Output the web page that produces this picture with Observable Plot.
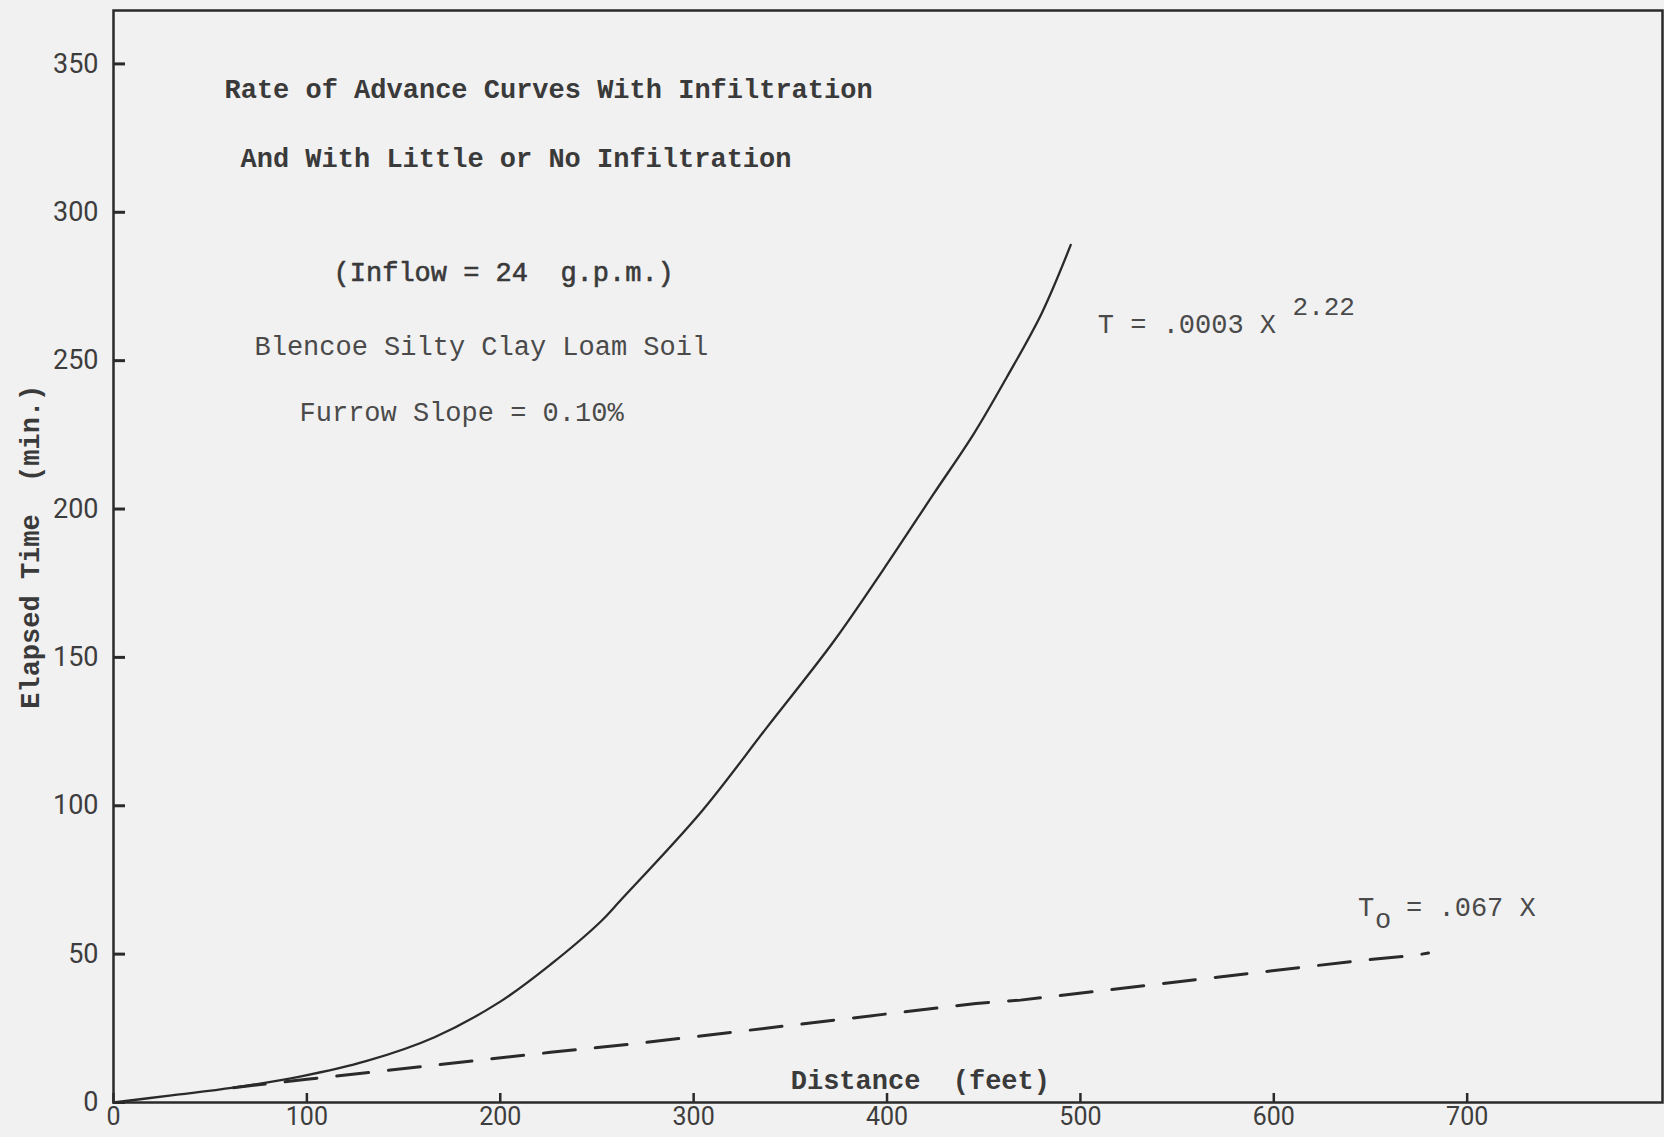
<!DOCTYPE html>
<html><head><meta charset="utf-8">
<script src="https://cdn.jsdelivr.net/npm/d3@7"></script>
<script src="https://cdn.jsdelivr.net/npm/@observablehq/plot@0.6"></script>
<style>
html,body{margin:0;padding:0;background:#f1f1f1;}
#chart svg{display:block;}
</style></head><body><div id="chart"></div>
<script>
// Curve with infiltration: T = .0003 X^2.22
const infilDistance = [0, 30, 62, 97, 131, 166, 200, 226, 252, 262, 304, 338, 372, 398, 424, 445, 462, 480, 495];
const infilTime     = [0, 2.4, 5, 8.8, 14, 22, 34, 46.5, 61, 68, 98, 126.5, 155, 179.5, 205, 225.5, 244.5, 266, 289];
// Little or no infiltration: To = .067 X (dashed)
const noInfilDistance = [62, 100, 226, 271, 446, 469, 644, 673, 680];
const noInfilTime     = [5, 7.8, 16.9, 19.9, 33.4, 34.5, 47.8, 49.6, 50.4];
const xTicks = [0, 100, 200, 300, 400, 500, 600, 700];
const yTicks = [0, 50, 100, 150, 200, 250, 300, 350];
const titleLines = ["Rate of Advance Curves With Infiltration", "And With Little or No Infiltration"];
const noteLines = ["(Inflow = 24  g.p.m.)", "Blencoe Silty Clay Loam Soil", "Furrow Slope = 0.10%"];
const curveLabel = ["T = .0003 X", "2.22"];
const lineLabel = ["T", "o", "= .067 X"];
const xLabel = "Distance  (feet)";
const yLabel = "Elapsed Time  (min.)";

const solid = infilDistance.map((x, i) => ({x, t: infilTime[i]}));
const dashed = noInfilDistance.map((x, i) => ({x, t: noInfilTime[i]}));

const W = 1664, H = 1137, mL = 113, mR = 2, mT = 10, mB = 35;
const innerW = W - mL - mR, innerH = H - mT - mB;
const mono = "Liberation Mono, DejaVu Sans Mono, monospace";
const ink = "#2a2a2a", typeInk = "#3a3a3a";

const txt = (s, o) => Plot.text([s], {text: d => d, fontFamily: mono, fontSize: 27, textAnchor: "start", lineAnchor: "middle", fill: typeInk, ...o});

const chart = Plot.plot({
  width: W, height: H,
  marginLeft: mL, marginRight: mR, marginTop: mT, marginBottom: mB,
  style: {background: "#f1f1f1", fontFamily: "Roboto, sans-serif", fontSize: "26px", color: "#3d3d3d"},
  x: {domain: [0, 801]},
  y: {domain: [0, 368]},
  marks: [
    Plot.frame({stroke: ink, strokeWidth: 2.5}),
    Plot.axisX(xTicks, {tickSize: 0, tickPadding: 5, fontSize: 25, label: null}),
    Plot.axisY(yTicks, {tickSize: 0, tickPadding: 15, fontSize: 27, label: null}),
    Plot.tickY(yTicks, {y: d => d, insetRight: innerW - 12, stroke: ink, strokeWidth: 3}),
    Plot.tickX(xTicks, {x: d => d, insetTop: innerH - 9, stroke: ink, strokeWidth: 2.5}),
    Plot.line(solid, {x: "x", y: "t", stroke: ink, strokeWidth: 2.3, curve: "catmull-rom"}),
    Plot.line(dashed, {x: "x", y: "t", stroke: ink, strokeWidth: 3, strokeDasharray: "32,20"}),
    txt(titleLines[0], {x: 57.4, y: 341.4, fontWeight: "bold"}),
    txt(titleLines[1], {x: 65.7, y: 318.1, fontWeight: "bold"}),
    txt(noteLines[0], {x: 113.8, y: 279.7, stroke: typeInk, strokeWidth: 0.6}),
    txt(noteLines[1], {x: 72.9, y: 254.8, fill: "#4a4a4a"}),
    txt(noteLines[2], {x: 96.2, y: 232.5, fill: "#4a4a4a"}),
    txt(curveLabel[0], {x: 509, y: 262.2, fill: "#4a4a4a"}),
    txt(curveLabel[1], {x: 609.7, y: 268.2, fill: "#4a4a4a", fontSize: 26}),
    txt(lineLabel[0], {x: 643.6, y: 65.9, fill: "#4a4a4a"}),
    txt(lineLabel[1], {x: 652.3, y: 61.6, fill: "#4a4a4a"}),
    txt(lineLabel[2], {x: 668.4, y: 65.9, fill: "#4a4a4a"}),
    txt(xLabel, {x: 350.2, y: 7.6, fontWeight: "bold"}),
    txt(yLabel, {x: -42.9, y: 187.3, fontWeight: "bold", textAnchor: "middle", rotate: -90})
  ]
});
document.getElementById("chart").appendChild(chart);
</script>
</body></html>
